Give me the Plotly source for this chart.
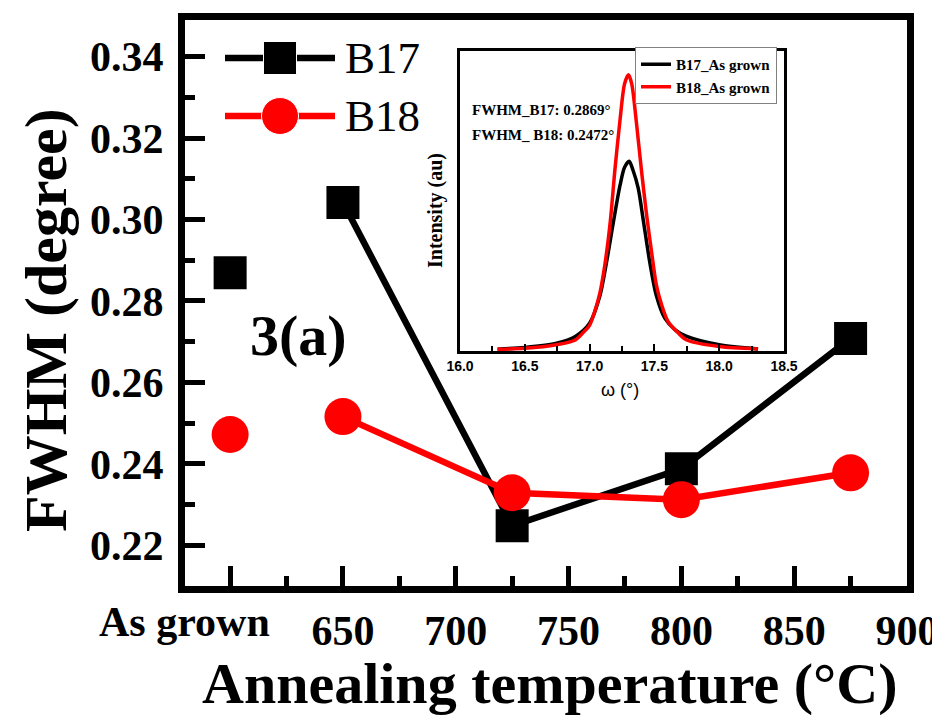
import plotly.graph_objects as go

# ---------------- main chart data ----------------
temp_positions = [600, 650, 725, 800, 875]          # 600 = "As grown" slot
b17_fwhm = [0.2869, 0.3042, 0.2248, 0.2388, 0.2708]
b18_fwhm = [0.2472, 0.2516, 0.2329, 0.2312, 0.2378]
series_names = ["B17", "B18"]

x_tick_vals = [600, 650, 700, 750, 800, 850, 900]
x_tick_text = ["As grown", "650", "700", "750", "800", "850", "900"]
x_minor_vals = [625, 675, 725, 775, 825, 875]
y_tick_vals = [0.22, 0.24, 0.26, 0.28, 0.30, 0.32, 0.34]
y_tick_text = ["0.22", "0.24", "0.26", "0.28", "0.30", "0.32", "0.34"]
y_minor_vals = [0.21, 0.23, 0.25, 0.27, 0.29, 0.31, 0.33]

# ---------------- inset (rocking curves) data ----------------
omega_b17 = [16.29, 16.50, 16.745, 16.89, 17.00, 17.08, 17.13, 17.185, 17.235, 17.27,
             17.305, 17.335, 17.375, 17.415, 17.465, 17.515, 17.58, 17.66, 17.75, 18.00, 18.30]
int_b17 = [0.0, 0.006, 0.02, 0.043, 0.087, 0.18, 0.29, 0.43, 0.55, 0.61,
           0.63, 0.60, 0.54, 0.43, 0.29, 0.18, 0.104, 0.065, 0.043, 0.015, 0.001]
omega_b18 = [16.29, 16.50, 16.745, 16.89, 16.96, 17.00, 17.04, 17.08, 17.12, 17.16,
             17.195, 17.235, 17.27, 17.30, 17.325, 17.36, 17.40, 17.44, 17.48, 17.515,
             17.555, 17.605, 17.685, 17.75, 18.00, 18.30]
int_b18 = [0.0, 0.003, 0.015, 0.031, 0.06, 0.08, 0.127, 0.19, 0.29, 0.43,
           0.60, 0.77, 0.89, 0.92, 0.89, 0.765, 0.60, 0.45, 0.32, 0.216,
           0.15, 0.093, 0.054, 0.031, 0.009, 0.001]
inset_names = ["B17_As grown", "B18_As grown"]
inset_x_ticks = [16.0, 16.5, 17.0, 17.5, 18.0, 18.5]
inset_x_text = ["16.0", "16.5", "17.0", "17.5", "18.0", "18.5"]
inset_x_minor = [16.25, 16.75, 17.25, 17.75, 18.25]
fwhm_notes = ["FWHM_B17: 0.2869°", "FWHM_ B18: 0.2472°"]

SERIF = "Liberation Serif, Times New Roman, serif"
SANS = "Liberation Sans, Arial, sans-serif"
BLACK = "#000000"
RED = "#ff0000"

W, H = 940, 715
L, R, T, B = 177, 41, 12, 137
PW, PH = W - L - R, H - T - B


def px_x(p):
    return (p - L) / PW


def px_y(p):
    return (H - B - p) / PH


fig = go.Figure()

# ---- main series ----
fig.add_trace(go.Scatter(x=temp_positions[1:], y=b17_fwhm[1:], mode="lines+markers",
                         line=dict(color=BLACK, width=6.5),
                         marker=dict(symbol="square", size=33, color=BLACK),
                         showlegend=False, xaxis="x", yaxis="y"))
fig.add_trace(go.Scatter(x=temp_positions[:1], y=b17_fwhm[:1], mode="markers",
                         marker=dict(symbol="square", size=33, color=BLACK),
                         showlegend=False, xaxis="x", yaxis="y"))
fig.add_trace(go.Scatter(x=temp_positions[1:], y=b18_fwhm[1:], mode="lines+markers",
                         line=dict(color=RED, width=6.5),
                         marker=dict(symbol="circle", size=37, color=RED),
                         showlegend=False, xaxis="x", yaxis="y"))
fig.add_trace(go.Scatter(x=temp_positions[:1], y=b18_fwhm[:1], mode="markers",
                         marker=dict(symbol="circle", size=37, color=RED),
                         showlegend=False, xaxis="x", yaxis="y"))

# ---- custom big legend (samples drawn on a hidden helper axis) ----
legend_rows = [0.8, 0.22]
for name, col, sym, size, row in zip(series_names, [BLACK, RED], ["square", "circle"],
                                     [33, 37], legend_rows):
    fig.add_trace(go.Scatter(x=[0, 0.5, 1], y=[row] * 3, mode="lines+markers",
                             line=dict(color=col, width=6.5),
                             marker=dict(symbol=sym, size=[0, size, 0], color=col,
                                         opacity=1),
                             showlegend=False, xaxis="x3", yaxis="y3", hoverinfo="skip"))

# ---- inset curves ----
fig.add_trace(go.Scatter(x=omega_b17, y=int_b17, mode="lines", name=inset_names[0],
                         line=dict(color=BLACK, width=3.5, shape="spline", smoothing=0.8),
                         xaxis="x2", yaxis="y2"))
fig.add_trace(go.Scatter(x=omega_b18, y=int_b18, mode="lines", name=inset_names[1],
                         line=dict(color=RED, width=3.5, shape="spline", smoothing=0.8),
                         xaxis="x2", yaxis="y2"))

tickfont_main = dict(family=SERIF, size=42, color=BLACK, weight="bold")

fig.update_layout(
    template="none",
    width=W, height=H,
    margin=dict(l=L, r=R, t=T, b=B, autoexpand=False),
    paper_bgcolor="white", plot_bgcolor="white",
    xaxis=dict(range=[580, 900], tickmode="array", tickvals=x_tick_vals,
               ticktext=[""] + x_tick_text[1:], tickfont=tickfont_main,
               showline=True, linewidth=7, linecolor=BLACK, mirror=True,
               ticks="inside", ticklen=20, tickwidth=5, tickcolor=BLACK,
               minor=dict(tickvals=x_minor_vals, ticks="inside", ticklen=10,
                          tickwidth=5, tickcolor=BLACK),
               showgrid=False, zeroline=False, ticklabelstandoff=2, automargin=False),
    yaxis=dict(range=[0.21, 0.349], tickmode="array", tickvals=y_tick_vals,
               ticktext=y_tick_text, tickfont=tickfont_main,
               showline=True, linewidth=7, linecolor=BLACK, mirror=True,
               ticks="inside", ticklen=20, tickwidth=5, tickcolor=BLACK,
               minor=dict(tickvals=y_minor_vals, ticks="inside", ticklen=10,
                          tickwidth=5, tickcolor=BLACK),
               showgrid=False, zeroline=False, ticklabelstandoff=6, automargin=False),
    xaxis2=dict(domain=[px_x(452), px_x(776)], anchor="y2", range=[16.0, 18.5],
                tickmode="array", tickvals=inset_x_ticks, ticktext=inset_x_text,
                tickfont=dict(family=SANS, size=14, color=BLACK, weight="bold"),
                showline=True, linewidth=2.5, linecolor=BLACK, mirror=True,
                ticks="inside", ticklen=7, tickwidth=2, tickcolor=BLACK,
                minor=dict(tickvals=inset_x_minor, ticks="inside", ticklen=5,
                           tickwidth=2, tickcolor=BLACK),
                showgrid=False, zeroline=False, automargin=False),
    yaxis2=dict(domain=[px_y(343), px_y(43)], anchor="x2", range=[-0.006, 1.0],
                showticklabels=False, ticks="",
                showline=True, linewidth=2.5, linecolor=BLACK, mirror=True,
                showgrid=False, zeroline=False, automargin=False),
    xaxis3=dict(domain=[px_x(217), px_x(327)], anchor="y3", range=[0, 1], visible=False,
                fixedrange=True, automargin=False),
    yaxis3=dict(domain=[px_y(130), px_y(30)], anchor="x3", range=[0, 1], visible=False,
                fixedrange=True, automargin=False),
    showlegend=True,
    legend=dict(x=px_x(627), y=px_y(39), xanchor="left", yanchor="top",
                bgcolor="white", bordercolor="#808080", borderwidth=1,
                font=dict(family=SERIF, size=15, color=BLACK, weight="bold"),
                tracegroupgap=0, itemwidth=30),
)

ann = []
# axis titles
ann.append(dict(text="FWHM (degree)", x=px_x(38), y=px_y(312), xref="paper", yref="paper",
                textangle=-90, showarrow=False, xanchor="center", yanchor="middle",
                font=dict(family=SERIF, size=60, color=BLACK, weight="bold")))
ann.append(dict(text="Annealing temperature (°C)", x=px_x(541), y=px_y(676), xref="paper",
                yref="paper", showarrow=False, xanchor="center", yanchor="middle",
                font=dict(family=SERIF, size=58, color=BLACK, weight="bold")))
# "As grown" tick label (placed left of its tick, as in the original)
ann.append(dict(text=x_tick_text[0], x=x_tick_vals[0], xshift=-46, y=px_y(614),
                xref="x", yref="paper", showarrow=False, xanchor="center",
                yanchor="middle", font=tickfont_main))
# panel label
ann.append(dict(text="3(a)", x=px_x(290), y=px_y(327), xref="paper", yref="paper",
                showarrow=False, xanchor="center", yanchor="middle",
                font=dict(family=SERIF, size=58, color=BLACK, weight="bold")))
# legend texts
for name, py in zip(series_names, [50, 108]):
    ann.append(dict(text=name, x=px_x(335), y=px_y(py), xref="paper", yref="paper",
                    showarrow=False, xanchor="left", yanchor="middle",
                    font=dict(family=SERIF, size=45, color=BLACK)))
# inset texts
ann.append(dict(text="Intensity (au)", x=px_x(428), y=px_y(203), xref="paper",
                yref="paper", textangle=-90, showarrow=False, xanchor="center",
                yanchor="middle",
                font=dict(family=SERIF, size=20, color=BLACK, weight="bold")))
ann.append(dict(text="ω (°)", x=px_x(612), y=px_y(382), xref="paper", yref="paper",
                showarrow=False, xanchor="center", yanchor="middle",
                font=dict(family=SANS, size=18, color=BLACK)))
for note, py in zip(fwhm_notes, [102, 127]):
    ann.append(dict(text=note, x=px_x(462), y=px_y(py), xref="paper", yref="paper",
                    showarrow=False, xanchor="left", yanchor="middle",
                    font=dict(family=SERIF, size=15, color=BLACK, weight="bold")))

fig.update_layout(annotations=ann)

fig.write_html("out.html")
